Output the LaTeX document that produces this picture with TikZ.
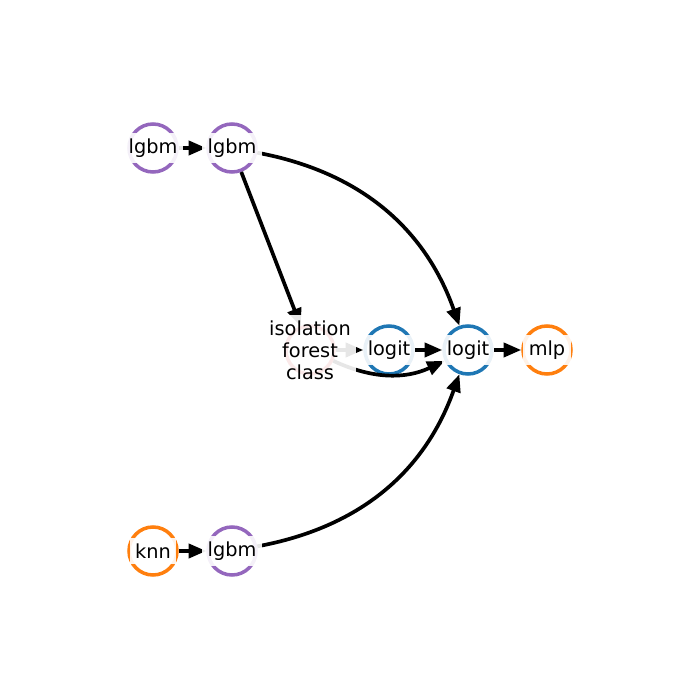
\documentclass[tikz,border=0pt]{standalone}
\usepackage{fontspec}
\setmainfont{DejaVu Sans}
\usepackage{xcolor}
\usepackage{tikz}
\usetikzlibrary{arrows.meta}

\definecolor{tabblue}{HTML}{1F77B4}
\definecolor{taborange}{HTML}{FF7F0E}
\definecolor{tabpurple}{HTML}{9467BD}
\definecolor{tabred}{HTML}{D62728}

\begin{document}
\begin{tikzpicture}[
    ring/.style={circle, draw=#1, line width=2pt, minimum size=0.96cm, inner sep=0pt},
    lab/.style={fill=white, fill opacity=0.9, text opacity=1, inner sep=3pt, align=center,
      font=\fontsize{11}{12.5}\selectfont},
    edge/.style={line width=2.1pt, -{Triangle[length=10pt,width=8pt]}}
  ]
  \useasboundingbox (0,0) rectangle (14,14);
  % rings
  \node[ring=tabpurple] (lgbmA) at (3.06,11.04) {};
  \node[ring=tabpurple] (lgbmB) at (4.64,11.04) {};
  \node[ring=tabred] (iso) at (6.20,7.00) {};
  \node[ring=tabblue] (logitA) at (7.78,7.00) {};
  \node[ring=tabblue] (logitB) at (9.36,7.00) {};
  \node[ring=taborange] (mlp) at (10.94,7.00) {};
  \node[ring=taborange] (knn) at (3.06,2.98) {};
  \node[ring=tabpurple] (lgbmC) at (4.64,2.98) {};
  % edges
  \draw[edge] (lgbmA) -- (lgbmB);
  \draw[edge] (lgbmB) -- (iso);
  \draw[edge] (lgbmB) to[bend left=30] (logitB);
  \draw[edge] (iso) -- (logitA);
  \draw[edge] (iso) to[bend right=25] (logitB);
  \draw[edge] (logitA) -- (logitB);
  \draw[edge] (logitB) -- (mlp);
  \draw[edge] (knn) -- (lgbmC);
  \draw[edge] (lgbmC) to[bend right=30] (logitB);
  % labels
  \foreach \n/\t in {lgbmA/lgbm, lgbmB/lgbm, logitA/logit, logitB/logit, mlp/mlp, knn/knn, lgbmC/lgbm}
    \node[lab] (\n-txt) at (\n) {\t};
  \node[lab] (iso-txt) at (iso) {isolation\\forest\\class};
\end{tikzpicture}
\end{document}
